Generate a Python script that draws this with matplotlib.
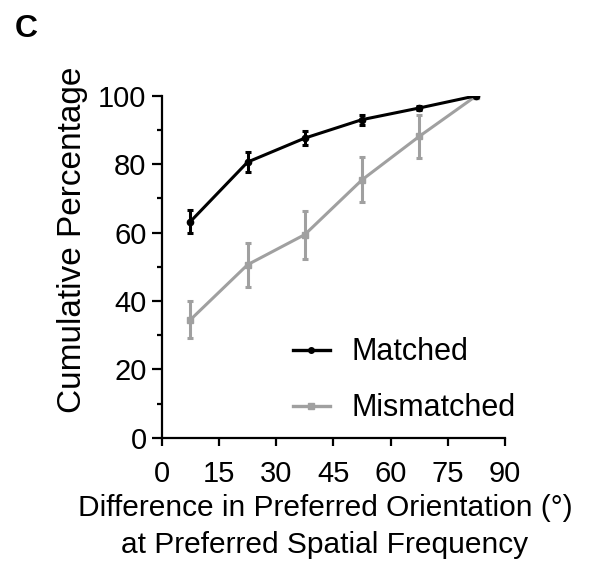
import numpy as np
import matplotlib.pyplot as plt
from matplotlib.lines import Line2D
from matplotlib.ticker import MultipleLocator

plt.rcParams.update({
    'font.family': ['Liberation Sans', 'DejaVu Sans'],
    'font.size': 21,
    'axes.linewidth': 1.6,
})

# Data (bin centres in degrees, cumulative percentages, error bars)
x_bins = [7.5, 22.5, 37.5, 52.5, 67.5, 82.5]
matched = [63.2, 80.6, 87.6, 93.0, 96.4, 100.0]
matched_err = [3.3, 3.0, 2.0, 1.5, 0.5, 0.0]
mismatched = [34.5, 50.6, 59.4, 75.4, 88.1, 100.0]
mismatched_err = [5.4, 6.4, 7.0, 6.6, 6.2, 0.0]

x_ticks = [0, 15, 30, 45, 60, 75, 90]
y_ticks = [0, 20, 40, 60, 80, 100]

BLACK = 'black'
GREY = '#a0a0a0'

fig = plt.figure(figsize=(5.97, 5.73), dpi=100)
ax = fig.add_axes([0.271, 0.236, 0.575, 0.597])

ax.errorbar(x_bins, mismatched, yerr=mismatched_err, color=GREY, lw=2.2,
            marker='s', ms=4, capsize=2.5, capthick=2.2, elinewidth=2.2,
            zorder=2)
ax.errorbar(x_bins, matched, yerr=matched_err, color=BLACK, lw=2.2,
            marker='o', ms=4.5, capsize=2.5, capthick=2.2, elinewidth=2.2,
            zorder=3)

ax.set_xlim(0, 90)
ax.set_ylim(0, 100)
ax.set_xticks(x_ticks)
ax.set_yticks(y_ticks)
ax.yaxis.set_minor_locator(MultipleLocator(10))
ax.tick_params(which='major', direction='out', length=7, width=1.6,
               labelsize=21, pad=4)
ax.tick_params(axis='x', which='major', pad=10, length=6)
ax.tick_params(which='minor', direction='out', length=3.5, width=1.6)
ax.spines['top'].set_visible(False)
ax.spines['right'].set_visible(False)

ax.set_ylabel('Cumulative Percentage', fontsize=24)
ax.yaxis.set_label_coords(-0.215, 0.58)
ax.set_xlabel('Difference in Preferred Orientation (°)\nat Preferred Spatial Frequency',
              fontsize=21.5, linespacing=1.42)
ax.xaxis.set_label_coords(0.475, -0.163)

handles = [
    Line2D([], [], color=BLACK, lw=2.4, marker='o', ms=4),
    Line2D([], [], color=GREY, lw=2.4, marker='s', ms=4),
]
ax.legend(handles, ['Matched', 'Mismatched'], loc='lower left', frameon=False,
          fontsize=22, handlelength=1.2, handletextpad=0.7, labelspacing=0.85,
          bbox_to_anchor=(0.302, -0.038))

fig.text(0.025, 0.935, 'C', fontsize=23, fontweight='bold')

fig.savefig('out.png', dpi=100, facecolor='white')
